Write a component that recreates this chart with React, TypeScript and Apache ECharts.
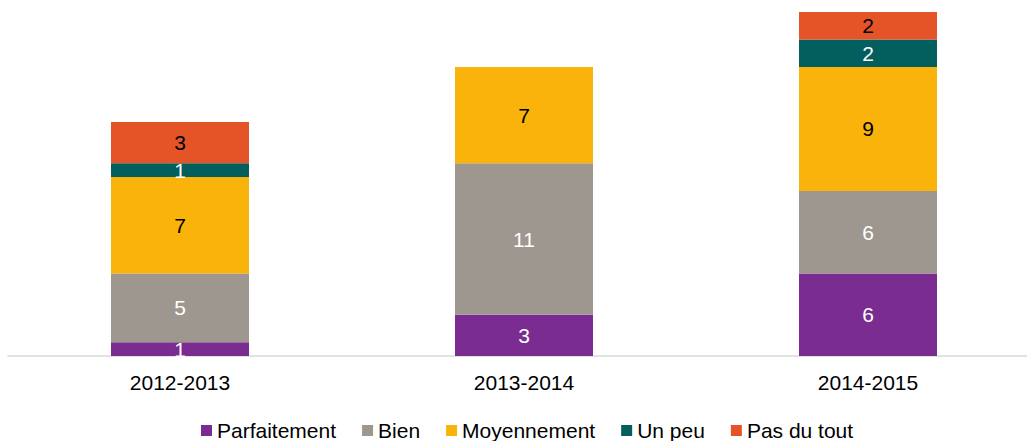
import React, { useEffect, useRef } from "react";
import * as echarts from "echarts";

const categories = ["2012-2013", "2013-2014", "2014-2015"];
const seriesNames = ["Parfaitement", "Bien", "Moyennement", "Un peu", "Pas du tout"];
const parfaitement = [1, 3, 6];
const bien = [5, 11, 6];
const moyennement = [7, 7, 9];
const unPeu = [1, 0, 2];
const pasDuTout = [3, 0, 2];
const seriesValues = [parfaitement, bien, moyennement, unPeu, pasDuTout];
const colors = ["#7B2C91", "#9E9790", "#F9B30A", "#035E5E", "#E45427"];
const labelColors = ["#ffffff", "#ffffff", "#000000", "#ffffff", "#000000"];

const FONT = "'Liberation Sans', Arial, sans-serif";

export default function App() {
  const ref = useRef<HTMLDivElement>(null);
  useEffect(() => {
    if (!ref.current) return;
    const chart = echarts.init(ref.current, undefined, { renderer: "svg" });
    chart.setOption({
      animation: false,
      textStyle: { fontFamily: FONT },
      grid: { left: 8, top: 12, width: 1032, height: 344, containLabel: false },
      xAxis: {
        type: "category",
        data: categories,
        axisLine: { lineStyle: { color: "#D9D9D9", width: 1.5 } },
        axisTick: { show: false },
        axisLabel: { color: "#000", fontSize: 21, margin: 16, fontFamily: FONT },
      },
      yAxis: { type: "value", min: 0, max: 25, show: false, splitLine: { show: false } },
      legend: {
        data: seriesNames,
        left: 201,
        top: 420,
        padding: 0,
        icon: "rect",
        itemWidth: 11,
        itemHeight: 11,
        itemGap: 26,
        textStyle: { fontSize: 21, color: "#000", fontFamily: FONT },
      },
      series: seriesNames.map((name, i) => ({
        name,
        type: "bar",
        stack: "total",
        barWidth: 138,
        data: seriesValues[i],
        itemStyle: { color: colors[i] },
        label: {
          show: true,
          position: "inside",
          color: labelColors[i],
          fontSize: 21,
          fontFamily: FONT,
          formatter: (p: any) => (p.value ? String(p.value) : ""),
        },
      })),
    });
    return () => chart.dispose();
  }, []);
  return (
    <div style={{ position: "absolute", left: 0, top: 0, width: 1027, height: 441, overflow: "hidden" }}>
      <div ref={ref} style={{ width: 1045, height: 441 }} />
    </div>
  );
}
